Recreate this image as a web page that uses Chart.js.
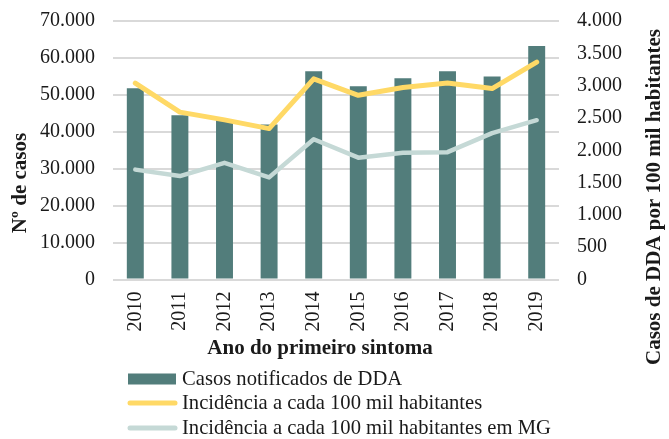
<!DOCTYPE html>
<html>
<head>
<meta charset="utf-8">
<script src="https://cdn.jsdelivr.net/npm/chart.js@4/dist/chart.umd.min.js"></script>
<style>
  html, body { margin: 0; padding: 0; background: #ffffff; }
  #wrap { width: 669px; height: 439px; position: relative; }
</style>
</head>
<body>
<div id="wrap"><canvas id="c" width="669" height="439"></canvas></div>
<script>
// ---- data ----
const years = ['2010', '2011', '2012', '2013', '2014', '2015', '2016', '2017', '2018', '2019'];
const casosNotificados = [51800, 44500, 43300, 42000, 56400, 52300, 54500, 56400, 55000, 63200];
const incidencia = [3040, 2590, 2470, 2335, 3105, 2850, 2970, 3040, 2955, 3365];
const incidenciaMG = [1700, 1600, 1805, 1580, 2170, 1885, 1960, 1970, 2265, 2465];
const seriesLabels = ['Casos notificados de DDA', 'Incidência a cada 100 mil habitantes', 'Incidência a cada 100 mil habitantes em MG'];
const leftTitle = 'Nº de casos';
const rightTitle = 'Casos de DDA por 100 mil habitantes';
const xTitle = 'Ano do primeiro sintoma';

const FONT = "'Liberation Serif', 'Times New Roman', serif";
const TEXT = '#1a1a1a';
const fmt = v => String(v).replace(/\B(?=(\d{3})+(?!\d))/g, '.');

const extras = {
  id: 'extras',
  afterDraw(chart) {
    const ctx = chart.ctx;
    const ds = chart.data.datasets;
    ctx.save();
    ctx.fillStyle = TEXT;
    ctx.font = 'bold 21px ' + FONT;
    ctx.textAlign = 'center';
    ctx.textBaseline = 'middle';
    // left title
    ctx.save(); ctx.translate(21, 183); ctx.rotate(-Math.PI / 2); ctx.fillText(leftTitle, 0, 0); ctx.restore();
    // right title
    ctx.save(); ctx.translate(655, 197); ctx.rotate(-Math.PI / 2); ctx.fillText(rightTitle, 0, 0); ctx.restore();
    // x title
    ctx.fillText(xTitle, 320, 349);
    // legend
    const rows = [379, 403, 428];
    ctx.font = '20.6px ' + FONT;
    ctx.textAlign = 'left';
    [0, 1, 2].forEach((i, r) => {
      const d = ds[i];
      const y = rows[r];
      if (d.type === 'bar') {
        ctx.fillStyle = d.backgroundColor;
        ctx.fillRect(128, y - 5.5, 48, 11);
      } else {
        ctx.strokeStyle = d.borderColor;
        ctx.lineWidth = 5;
        ctx.lineCap = 'round';
        ctx.beginPath(); ctx.moveTo(130, y); ctx.lineTo(175, y); ctx.stroke();
      }
      ctx.fillStyle = TEXT;
      ctx.fillText(d.label, 182, y + 1);
    });
    ctx.restore();
  }
};

new Chart(document.getElementById('c'), {
  data: {
    labels: years,
    datasets: [
      { type: 'bar', label: seriesLabels[0], data: casosNotificados, yAxisID: 'y',
        backgroundColor: '#527d7b', borderWidth: 0, barPercentage: 0.38, categoryPercentage: 1, order: 3 },
      { type: 'line', label: seriesLabels[1], data: incidencia, yAxisID: 'y1',
        borderColor: '#ffd966', borderWidth: 5, pointRadius: 0, tension: 0, order: 1, borderCapStyle: 'round', borderJoinStyle: 'round' },
      { type: 'line', label: seriesLabels[2], data: incidenciaMG, yAxisID: 'y1',
        borderColor: '#c5d9d6', borderWidth: 4.5, pointRadius: 0, tension: 0, order: 2, borderCapStyle: 'round', borderJoinStyle: 'round' }
    ]
  },
  options: {
    responsive: false,
    animation: false,
    layout: { padding: { top: 21, left: 0, right: 0, bottom: 0 } },
    plugins: { legend: { display: false }, tooltip: { enabled: false } },
    scales: {
      x: {
        grid: { display: false, drawTicks: false },
        border: { display: false },
        ticks: { minRotation: 90, maxRotation: 90, padding: 12, color: TEXT, font: { family: FONT, size: 20 } },
        afterFit(s) { s.height = 159.5; s.paddingLeft = 0; s.paddingRight = 0; }
      },
      y: {
        position: 'left', min: 0, max: 70000,
        grid: { color: '#d9d9d9', lineWidth: 2, drawTicks: false },
        border: { display: false },
        ticks: { stepSize: 10000, padding: 18, color: TEXT, font: { family: FONT, size: 20 }, callback: v => fmt(v) },
        afterFit(s) { s.width = 113; s.paddingTop = 0; s.paddingBottom = 0; }
      },
      y1: {
        position: 'right', min: 0, max: 4000,
        grid: { display: false, drawTicks: false },
        border: { display: false },
        ticks: { stepSize: 500, padding: 18, color: TEXT, font: { family: FONT, size: 20 }, callback: v => fmt(v) },
        afterFit(s) { s.width = 110; s.paddingTop = 0; s.paddingBottom = 0; }
      }
    }
  },
  plugins: [extras]
});
</script>
</body>
</html>
